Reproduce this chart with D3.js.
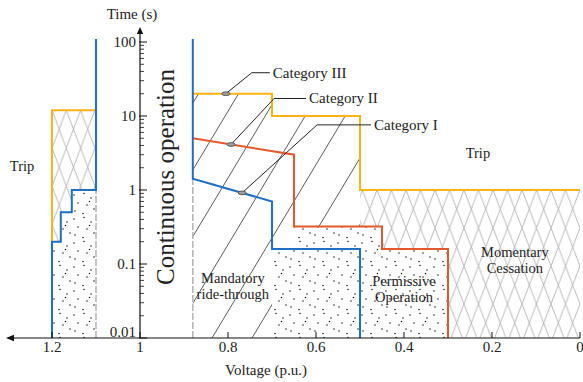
<!DOCTYPE html>
<html><head><meta charset="utf-8">
<script src="https://cdn.jsdelivr.net/npm/d3@7"></script>
<style>
body{margin:0;background:#fff}
svg{display:block}
</style>
</head><body>
<svg id="c" width="583" height="382"></svg>
<script>
// ---------- data ----------
const xTicks = [1.2, 1, 0.8, 0.6, 0.4, 0.2, 0];
const xTickLabels = ["1.2", "1", "0.8", "0.6", "0.4", "0.2", "0"];
const yTicks = [0.01, 0.1, 1, 10, 100];
const yTickLabels = ["0.01", "0.1", "1", "10", "100"];

// curves: [voltage p.u., time s]
const catI_OV   = [[1.1,110],[1.1,1],[1.155,1],[1.155,0.5],[1.18,0.5],[1.18,0.2],[1.2,0.2],[1.2,0.01]];
const catIII_OV = [[1.1,12],[1.2,12],[1.2,0.2]];
const catI_UV   = [[0.88,110],[0.88,1.42],[0.7,0.7],[0.7,0.16],[0.5,0.16],[0.5,0.01]];
const catII_UV  = [[0.88,5.0],[0.65,3],[0.65,0.32],[0.45,0.32],[0.45,0.16],[0.3,0.16],[0.3,0.01]];
const catIII_UV = [[0.88,20],[0.7,20],[0.7,10],[0.5,10],[0.5,1],[0,1]];

// region polygons
const regionCrossOV = [[1.2,12],[1.1,12],[1.1,1],[1.155,1],[1.155,0.5],[1.18,0.5],[1.18,0.2],[1.2,0.2]];
const regionDotsOV  = [[1.2,0.2],[1.18,0.2],[1.18,0.5],[1.155,0.5],[1.155,1],[1.1,1],[1.1,0.01],[1.2,0.01]];
const regionMandatory = [[0.88,20],[0.7,20],[0.7,10],[0.5,10],[0.5,0.32],[0.65,0.32],[0.65,0.16],[0.7,0.16],[0.7,0.01],[0.88,0.01]];
const regionCrossUV = [[0.5,1],[0,1],[0,0.01],[0.3,0.01],[0.3,0.16],[0.45,0.16],[0.45,0.32],[0.5,0.32]];
const regionDotsUV  = [[0.7,0.16],[0.65,0.16],[0.65,0.32],[0.45,0.32],[0.45,0.16],[0.3,0.16],[0.3,0.01],[0.7,0.01]];

// boundaries of continuous operation (dashed)
const contBounds = [{v:1.1, t0:0.01, t1:1}, {v:0.88, t0:0.01, t1:1.42}];

const annotations = [
  {label:"Category III", curve:catIII_UV, v:0.805, dx:26, dy:-21, len:18},
  {label:"Category II",  curve:catII_UV,  v:0.793, dx:43, dy:-46, len:32},
  {label:"Category I",   curve:catI_UV,   v:0.768, dx:75, dy:-68, len:54}
];

// label block centres
const regionLabels = [
  {lines:["Trip"], v:1.268, t:2.1},
  {lines:["Trip"], v:0.232, t:3.16},
  {lines:["Mandatory","ride-through"], v:0.789, t:0.0497},
  {lines:["Permissive","Operation"], v:0.40, t:0.046},
  {lines:["Momentary","Cessation"], v:0.148, t:0.113}
];

// ---------- scales ----------
const FONT = "'Liberation Serif', 'Times New Roman', 'DejaVu Serif', serif";
const svg = d3.select("#c").attr("font-family", FONT);
const x = d3.scaleLinear().domain([1.2, 0]).range([52, 580]);
const y = d3.scaleLog().domain([0.01, 100]).range([338, 42]);
const line = d3.line().x(d => x(d[0])).y(d => y(d[1]));
const poly = pts => line(pts) + "Z";

// ---------- patterns ----------
const defs = svg.append("defs");
const pc = defs.append("pattern").attr("id","cross").attr("patternUnits","userSpaceOnUse")
  .attr("width",14.5).attr("height",38).attr("x",0).attr("y",y(1));
pc.append("path").attr("d","M0,0L14.5,38M14.5,0L0,38").attr("stroke","#9a9a9a").attr("stroke-width",0.7).attr("fill","none");

const pcl = defs.append("pattern").attr("id","crossL").attr("patternUnits","userSpaceOnUse")
  .attr("width",14.3).attr("height",38).attr("x",x(1.2)).attr("y",y(12));
pcl.append("path").attr("d","M0,0L14.3,38M14.3,0L0,38").attr("stroke","#9a9a9a").attr("stroke-width",0.7).attr("fill","none");

const pd = defs.append("pattern").attr("id","dots").attr("patternUnits","userSpaceOnUse")
  .attr("width",24).attr("height",24);
const dotPos = [[2,3],[12,1.5],[19,6],[6,11],[15,13],[22,17],[3,19],[11,21.5],[17.5,9.5]];
dotPos.forEach(p => pd.append("circle").attr("cx",p[0]).attr("cy",p[1]).attr("r",0.75).attr("fill","#111"));

defs.append("clipPath").attr("id","mandClip").append("path").attr("d",poly(regionMandatory));

// ---------- regions ----------
svg.append("path").attr("d",poly(regionCrossOV)).attr("fill","url(#crossL)");
svg.append("path").attr("d",poly(regionDotsOV)).attr("fill","url(#dots)");
svg.append("path").attr("d",poly(regionCrossUV)).attr("fill","url(#cross)");
svg.append("path").attr("d",poly(regionDotsUV)).attr("fill","url(#dots)");

// single diagonal hatch for mandatory ride-through, clipped to region
const hatchG = svg.append("g").attr("clip-path","url(#mandClip)");
const slope = 1.667, yB = y(0.01), yT = 60;
for (let xb = 212 - 40*4; xb <= 420; xb += 40) {
  hatchG.append("line").attr("x1",xb).attr("y1",yB).attr("x2",xb + (yB-yT)/slope).attr("y2",yT)
    .attr("stroke","#333").attr("stroke-width",0.8);
}

contBounds.forEach(b => {
  svg.append("line").attr("x1",x(b.v)).attr("x2",x(b.v)).attr("y1",y(b.t0)).attr("y2",y(b.t1))
    .attr("stroke","#b8b8b8").attr("stroke-width",1.6).attr("stroke-dasharray","7,2");
});

// ---------- curves ----------
const ORANGE = "#FFB314", RED = "#E3592B", BLUE = "#1F6FC4";
function curve(pts, color){
  svg.append("path").attr("d",line(pts)).attr("fill","none").attr("stroke",color)
    .attr("stroke-width",2).attr("stroke-linejoin","miter");
}
curve(catIII_OV, ORANGE);
curve(catIII_UV, ORANGE);
curve(catII_UV, RED);
curve(catI_OV, BLUE);
curve(catI_UV, BLUE);

// ---------- axes ----------
const TXT = "#222";
const axisY0 = y(0.01);
svg.append("line").attr("x1",12).attr("x2",580).attr("y1",axisY0).attr("y2",axisY0).attr("stroke","#111").attr("stroke-width",1.2);
svg.append("path").attr("d",`M6,${axisY0}L14,${axisY0-3.2}L14,${axisY0+3.2}Z`).attr("fill","#111");
const ax = x(1);
svg.append("line").attr("x1",ax).attr("x2",ax).attr("y1",axisY0).attr("y2",32).attr("stroke","#111").attr("stroke-width",1.2);
svg.append("path").attr("d",`M${ax},27L${ax-3.2},34L${ax+3.2},34Z`).attr("fill","#111");

xTicks.forEach((v,i) => {
  svg.append("line").attr("x1",x(v)).attr("x2",x(v)).attr("y1",axisY0).attr("y2",axisY0-6).attr("stroke","#111").attr("stroke-width",1);
  svg.append("text").attr("x",x(v)).attr("y",352).attr("text-anchor","middle").attr("font-size",15).attr("fill",TXT).text(xTickLabels[i]);
});
yTicks.forEach((t,i) => {
  svg.append("line").attr("x1",ax-1).attr("x2",ax+7).attr("y1",y(t)).attr("y2",y(t)).attr("stroke","#111").attr("stroke-width",1);
  const ly = t === 0.01 ? y(t) - 6 : y(t);
  svg.append("text").attr("x",ax-4).attr("y",ly).attr("dy","0.35em").attr("text-anchor","end").attr("font-size",15).attr("fill",TXT).text(yTickLabels[i]);
  if (t < 100) {
    for (let k = 2; k <= 9; k++) {
      const yy = y(t*k);
      svg.append("line").attr("x1",ax).attr("x2",ax+4).attr("y1",yy).attr("y2",yy).attr("stroke","#111").attr("stroke-width",0.8);
    }
  }
});
svg.append("text").attr("x",132).attr("y",19).attr("text-anchor","middle").attr("font-size",15).attr("fill",TXT).text("Time (s)");
svg.append("text").attr("x",266).attr("y",375).attr("text-anchor","middle").attr("font-size",15).attr("fill",TXT).text("Voltage (p.u.)");

svg.append("text").attr("transform",`translate(173.5,177) rotate(-90)`).attr("text-anchor","middle")
  .attr("font-size",25).attr("fill",TXT).text("Continuous operation");

const LH = 16;
regionLabels.forEach(r => {
  const n = r.lines.length;
  const cy = y(r.t);
  r.lines.forEach((s,i) => {
    svg.append("text").attr("x",x(r.v)).attr("y",cy + (i - (n-1)/2)*LH).attr("dy","0.33em")
      .attr("text-anchor","middle").attr("font-size",14.5).attr("fill",TXT).text(s);
  });
});

function yOn(curvePts, v){
  for (let i=0;i<curvePts.length-1;i++){
    const a=curvePts[i], b=curvePts[i+1];
    if (a[0]===b[0]) continue;
    if ((v<=a[0]&&v>=b[0])||(v>=a[0]&&v<=b[0])){
      const f=(x(v)-x(a[0]))/(x(b[0])-x(a[0]));
      return y(a[1])+f*(y(b[1])-y(a[1]));
    }
  }
  return y(curvePts[0][1]);
}
annotations.forEach(a => {
  const px = x(a.v), py = yOn(a.curve, a.v);
  const ex = px + a.dx, ey = py + a.dy;
  svg.append("path").attr("d",`M${px},${py}L${ex},${ey}L${ex+a.len},${ey}`)
    .attr("fill","none").attr("stroke","#222").attr("stroke-width",1);
  svg.append("ellipse").attr("cx",px).attr("cy",py).attr("rx",4).attr("ry",1.9)
    .attr("fill","#a0a0a0").attr("stroke","#444").attr("stroke-width",0.8);
  svg.append("text").attr("x",ex+a.len+3).attr("y",ey).attr("dy","0.33em").attr("font-size",15).attr("fill",TXT).text(a.label);
});
</script>
</body></html>
